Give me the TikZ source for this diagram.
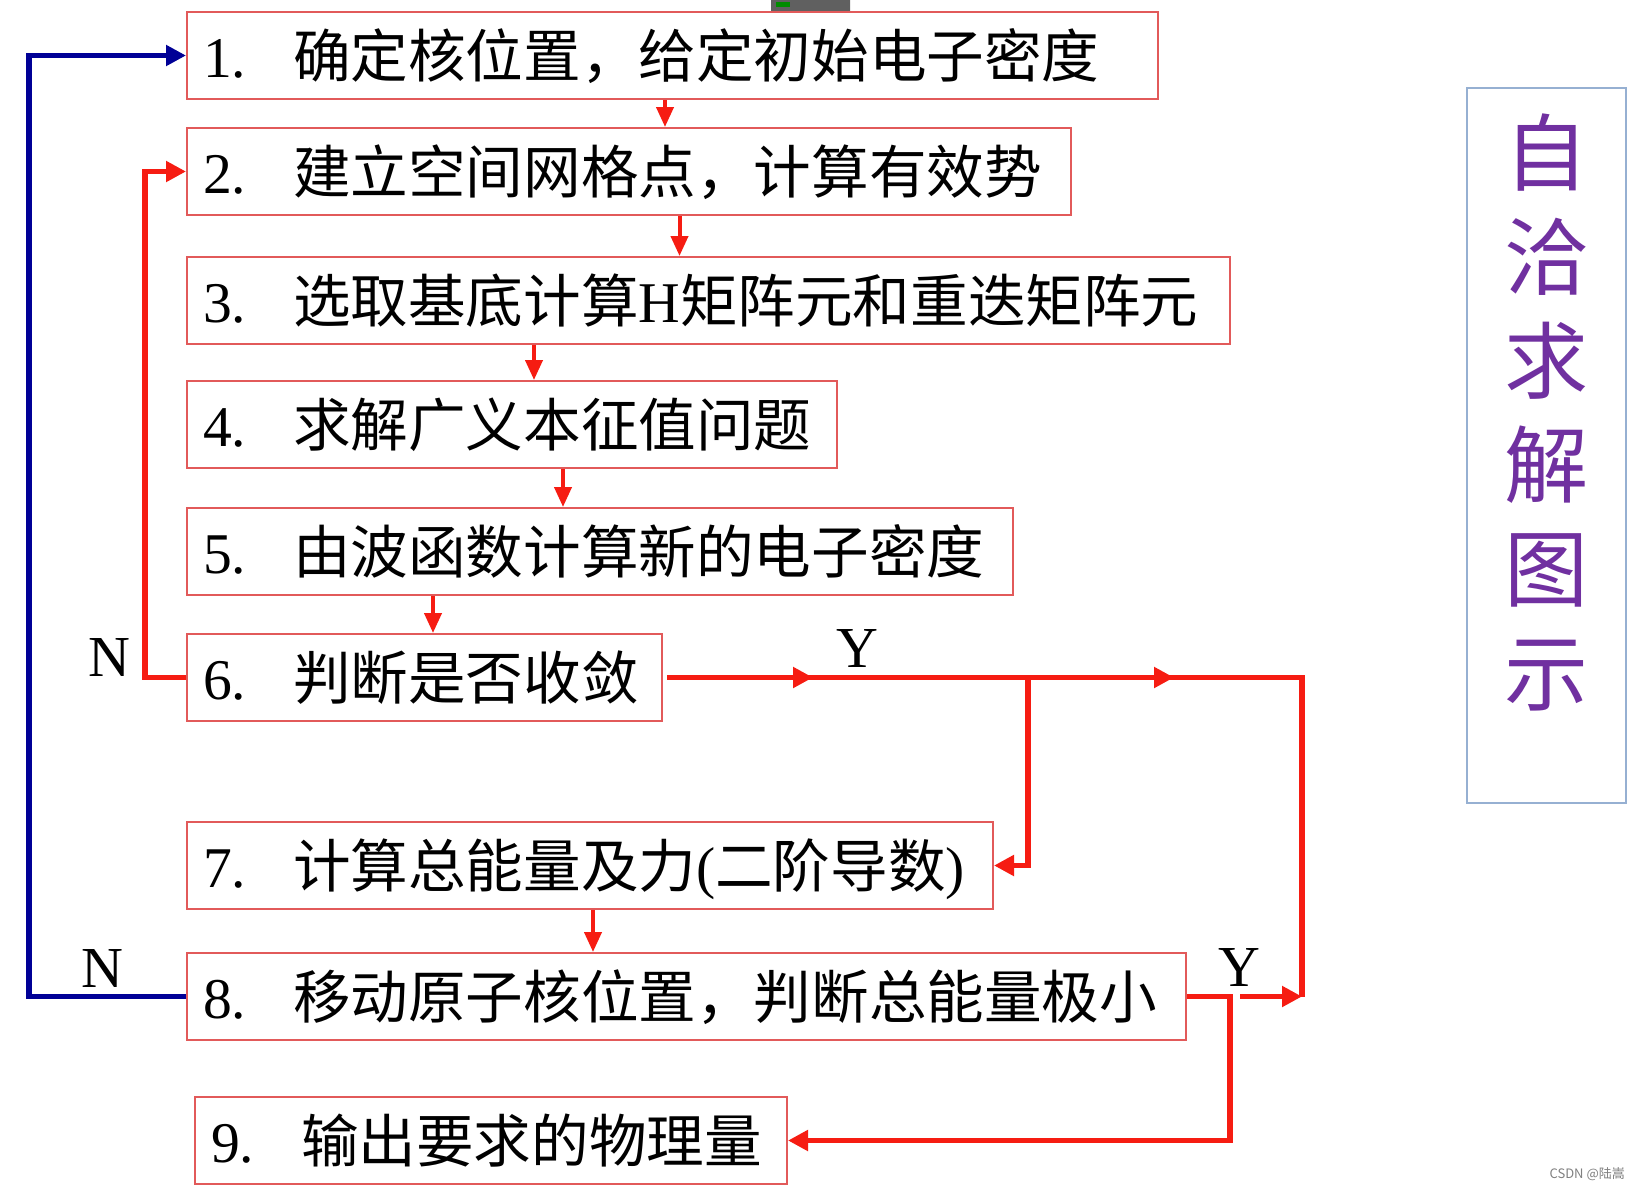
\documentclass[tikz,border=0pt]{standalone}
\usepackage{fontspec}
\setmainfont{Liberation Serif}
\newfontfamily\cjk{Noto Sans CJK SC}
\usetikzlibrary{arrows.meta,calc}
\definecolor{boxred}{RGB}{226,90,90}
\definecolor{linered}{RGB}{246,28,18}
\definecolor{lineblue}{RGB}{0,0,150}
\definecolor{ttlpurple}{RGB}{112,48,160}
\definecolor{ttlframe}{RGB}{150,176,210}
\newcommand{\stp}[3]{\makebox[#1][l]{\makebox[90pt][l]{#2}{\cjk #3}}}
\begin{document}
\begin{tikzpicture}[x=1pt,y=-1pt,
  stepbox/.style={draw=boxred, line width=2pt, fill=white, anchor=north west,
    inner xsep=16pt, inner ysep=0pt, minimum height=87pt,
    text height=52pt, text depth=8pt, font=\fontsize{57.6}{60}\selectfont},
  thinarrow/.style={draw=linered, line width=4pt, -{Triangle[length=20pt,width=17pt]}},
  heavyred/.style={draw=linered, line width=5.5pt},
  heavyblue/.style={draw=lineblue, line width=5.5pt},
  bigtip/.style={-{Triangle[length=20pt,width=20pt]}},
  yn/.style={font=\fontsize{58}{58}\selectfont, inner sep=0pt},
  ttlchar/.style={font=\cjk\fontsize{84}{84}\selectfont, text=ttlpurple, anchor=base, inner sep=0pt}
]
\useasboundingbox (0,0) rectangle (1639,1189);
\fill[white] (0,0) rectangle (1639,1189);
% small screen artifact at top
\fill[gray!75!black, rounded corners=2pt] (771,-3) rectangle (850,14);
\fill[green!55!black] (776,2) rectangle (790,7);

% step boxes
\node[stepbox] (b1) at (186,11)  {\stp{939pt}{1.}{确定核位置，给定初始电子密度}};
\node[stepbox] (b2) at (186,127) {\stp{852pt}{2.}{建立空间网格点，计算有效势}};
\node[stepbox] (b3) at (186,256) {\stp{1011pt}{3.}{选取基底计算{\rmfamily H}矩阵元和重迭矩阵元}};
\node[stepbox] (b4) at (186,380) {\stp{618pt}{4.}{求解广义本征值问题}};
\node[stepbox] (b5) at (186,507) {\stp{794pt}{5.}{由波函数计算新的电子密度}};
\node[stepbox] (b6) at (186,633) {\stp{443pt}{6.}{判断是否收敛}};
\node[stepbox] (b7) at (186,821) {\stp{774pt}{7.}{计算总能量及力{\rmfamily (}二阶导数{\rmfamily )}}};
\node[stepbox] (b8) at (186,952) {\stp{967pt}{8.}{移动原子核位置，判断总能量极小}};
\node[stepbox] (b9) at (194,1096){\stp{560pt}{9.}{输出要求的物理量}};

% straight downward arrows
\draw[thinarrow] ($(b1.south west)+(479,0)$) -- ($(b2.north west)+(479,0)$);
\draw[thinarrow] ($(b2.south west)+(493.5,0)$) -- ($(b3.north west)+(493.5,0)$);
\draw[thinarrow] ($(b3.south west)+(348,0)$) -- ($(b4.north west)+(348,0)$);
\draw[thinarrow] ($(b4.south west)+(377,0)$) -- ($(b5.north west)+(377,0)$);
\draw[thinarrow] ($(b5.south west)+(247,0)$) -- ($(b6.north west)+(247,0)$);
\draw[thinarrow] ($(b7.south west)+(407,0)$) -- ($(b8.north west)+(407,0)$);

% column coordinates
\coordinate (colB) at (1028,0);
\coordinate (colC) at (1230,0);
\coordinate (colR) at (1302,0);

% N loops
\draw[heavyred, bigtip] (b6.west) -- ++(-41,0) |- (b2.west);
\draw[heavyblue, bigtip] (b8.west) -- ++(-157,0) |- (b1.west);

% Y from step 6
\draw[heavyred] ([xshift=4pt]b6.east) -- (b6.east -| colR) -- (b8.east -| colR);
\draw[heavyred, bigtip] ($(b6.east)+(120,0)$) -- ($(b6.east)+(150,0)$);
\draw[heavyred, bigtip] ($(b6.east)+(481,0)$) -- ($(b6.east)+(511,0)$);
\draw[heavyred, bigtip] (b6.east -| colB) |- (b7.east);
\draw[heavyred, bigtip] ($(b8.east -| colR)+(-62,0)$) -- (b8.east -| colR);

% Y from step 8
\draw[heavyred, bigtip] (b8.east) -- (b8.east -| colC) |- (b9.east);

% labels
\node[yn] (n1) at (109,658) {N};
\node[yn] (n2) at (102,968) {N};
\node[yn] (y1) at (857,649) {Y};
\node[yn] (y2) at (1239,967) {Y};

% title frame
\node[draw=ttlframe, line width=2pt, anchor=north west, minimum width=159pt,
      minimum height=715pt, inner sep=0pt] (ttl) at (1466,87) {};
\foreach \c [count=\i] in {自,洽,求,解,图,示}
  \node[ttlchar] (t\i) at (1546,{184+104*(\i-1)}) {\c};

% watermark
\node[font=\cjk\fontsize{13}{13}\selectfont, text=gray, anchor=east, inner sep=0pt] (wm) at (1625,1174) {CSDN @陆嵩};
\end{tikzpicture}
\end{document}
